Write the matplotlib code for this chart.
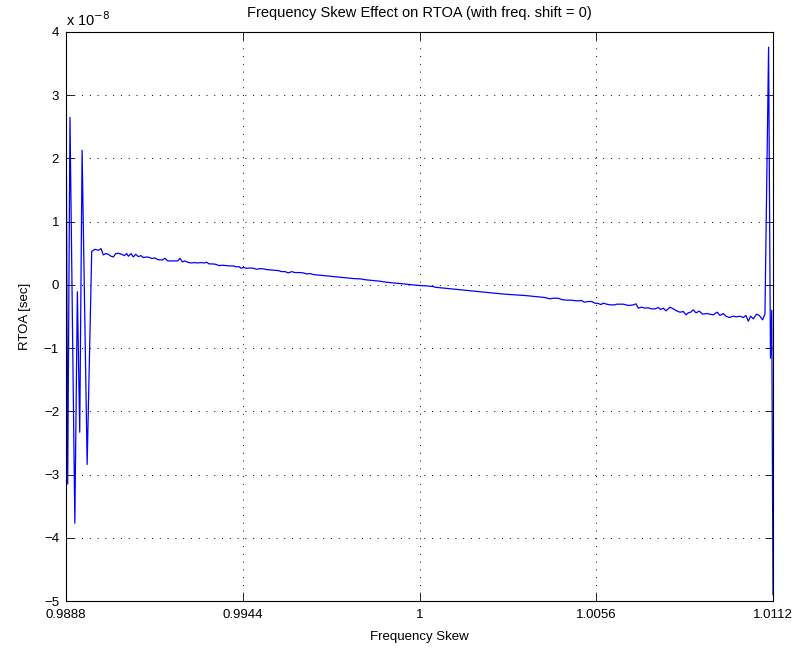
import numpy as np
import matplotlib.pyplot as plt
from matplotlib.ticker import FuncFormatter

"""
Frequency skew effect on RTOA (freq. shift = 0).
Skew offsets are given in units of 1e-4 around 1, RTOA in units of 1e-8 s.
"""

# left edge: solver unstable, big swings
skew_left = [-112.0, -111.46, -110.74, -109.2, -108.4, -107.65, -106.9, -105.3, -103.85]
rtoa_left = [3.34, -3.15, 2.65, -3.77, -0.11, -2.33, 2.13, -2.84, 0.53]

# stable part
skew_mid = [
    -102.80, -101.75, -100.90, -100.16, -99.42, -98.58, -97.73, -96.99, -96.25, -95.41,
    -94.35, -93.51, -92.77, -92.24, -91.40, -90.66, -89.92, -89.07, -88.23, -87.49,
    -86.43, -85.38, -84.85, -83.79, -82.95, -82.21, -81.47, -80.63, -79.78, -78.73,
    -77.67, -76.61, -75.87, -75.13, -74.29, -73.45, -72.39, -71.33, -70.28, -69.22,
    -68.17, -67.43, -66.69, -65.63, -64.57, -63.52, -62.46, -61.41, -60.35, -58.98,
    -57.92, -57.18, -56.55, -55.81, -54.75, -53.70, -52.64, -51.59, -50.53, -49.47,
    -48.42, -46.31, -44.72, -43.67, -42.61, -41.55, -40.50, -39.44, -37.86, -36.80,
    -35.75, -34.69, -33.63, -31.52, -29.41, -27.30, -25.19, -23.07, -20.96, -18.85,
    -16.74, -14.63, -12.51, -10.40, -8.29, -6.18, -4.07, -1.96, 0.16, 2.27,
    4.38, 4.91, 8.08, 11.25, 14.41, 17.58, 20.75, 23.92, 27.09, 30.25,
    33.42, 36.59, 39.76, 41.34, 42.40, 43.98, 45.04, 46.62, 48.20, 49.79,
    51.37, 52.22, 53.48, 54.54, 55.60, 56.65, 57.50, 58.24, 59.29, 60.35,
    61.93, 62.46, 64.57, 66.16, 67.74, 68.59, 69.33, 70.38, 71.44, 72.49,
    73.55, 74.61, 75.66, 76.40, 77.25, 78.09, 79.36, 80.41, 81.47, 82.53,
    83.58, 84.43, 85.17, 85.90, 86.75, 87.59, 88.65, 89.71, 90.97, 92.03,
    93.09, 93.93, 94.35, 95.20, 96.25, 97.10, 98.15, 99.42, 100.48, 101.53,
    102.59, 103.43, 104.17, 104.91, 105.76, 106.81, 107.66, 108.71, 109.45,
]
rtoa_mid = [
    0.563, 0.547, 0.574, 0.474, 0.495, 0.484, 0.453, 0.442, 0.495, 0.500,
    0.484, 0.463, 0.495, 0.453, 0.495, 0.442, 0.484, 0.447, 0.463, 0.432,
    0.442, 0.432, 0.416, 0.426, 0.400, 0.395, 0.395, 0.421, 0.379, 0.379,
    0.379, 0.379, 0.421, 0.363, 0.379, 0.358, 0.347, 0.353, 0.347, 0.353,
    0.347, 0.358, 0.332, 0.332, 0.326, 0.305, 0.311, 0.305, 0.300, 0.300,
    0.284, 0.289, 0.263, 0.274, 0.263, 0.268, 0.263, 0.247, 0.258, 0.253,
    0.242, 0.232, 0.226, 0.210, 0.210, 0.189, 0.210, 0.195, 0.195, 0.189,
    0.174, 0.179, 0.163, 0.153, 0.142, 0.132, 0.121, 0.111, 0.100, 0.095,
    0.079, 0.068, 0.058, 0.042, 0.032, 0.021, 0.011, 0.000, -0.011, -0.016,
    -0.026, -0.037, -0.053, -0.068, -0.084, -0.100, -0.116, -0.132, -0.147, -0.158,
    -0.168, -0.184, -0.200, -0.221, -0.211, -0.211, -0.232, -0.242, -0.242, -0.253,
    -0.247, -0.274, -0.263, -0.263, -0.289, -0.295, -0.311, -0.289, -0.305, -0.316,
    -0.316, -0.305, -0.305, -0.326, -0.316, -0.300, -0.368, -0.353, -0.368, -0.363,
    -0.379, -0.379, -0.358, -0.389, -0.368, -0.411, -0.353, -0.379, -0.411, -0.432,
    -0.421, -0.474, -0.442, -0.432, -0.395, -0.442, -0.416, -0.463, -0.453, -0.463,
    -0.474, -0.442, -0.432, -0.484, -0.453, -0.495, -0.516, -0.495, -0.505, -0.495,
    -0.516, -0.484, -0.574, -0.495, -0.537, -0.463, -0.484, -0.553, -0.458,
]

# right edge: unstable again
skew_right = [110.6, 111.2, 111.6, 112.0]
rtoa_right = [3.76, -1.16, -0.40, -4.9]

skew = 1 + np.array(skew_left + skew_mid + skew_right) * 1e-4
rtoa = np.array(rtoa_left + rtoa_mid + rtoa_right) * 1e-8

xticks = [0.9888, 0.9944, 1.0, 1.0056, 1.0112]
yticks = [-5, -4, -3, -2, -1, 0, 1, 2, 3, 4]

plt.rcParams['font.family'] = ['Liberation Sans', 'DejaVu Sans']
plt.rcParams['font.size'] = 9.5

W, H = 807, 651
fig = plt.figure(figsize=(W / 100, H / 100), dpi=100)
L, R, T, B = 66, 773, 32, 601
ax = fig.add_axes([L / W, 1 - B / H, (R - L) / W, (B - T) / H])

ax.plot(skew, rtoa, color='#0000ff', lw=0.9)

ax.set_xlim(xticks[0], xticks[-1])
ax.set_ylim(-5e-8, 4e-8)
ax.set_xticks(xticks)
ax.set_xticklabels(['%g' % v for v in xticks])
ax.set_yticks([v * 1e-8 for v in yticks])
ax.yaxis.set_major_formatter(
    FuncFormatter(lambda v, p: ('%d' % round(v / 1e-8)).replace('-', '\u2212')))

ax.grid(True, color='k', linestyle=(0, (1, 7)), linewidth=0.7)
ax.tick_params(direction='in', top=True, right=True, length=6, width=0.6)
ax.tick_params(axis='y', pad=5)
ax.tick_params(axis='x', pad=6)
for s in ax.spines.values():
    s.set_linewidth(0.8)

ax.text(0.0, 1.006, 'x 10$^{-8}$', transform=ax.transAxes, ha='left', va='bottom',
        fontsize=10.5)
ax.set_title('Frequency Skew Effect on RTOA (with freq. shift = 0)', fontsize=10.5, pad=11)
ax.set_xlabel('Frequency Skew', labelpad=7)
ax.set_ylabel('RTOA [sec]', labelpad=9)

fig.savefig('out.png', dpi=100)
